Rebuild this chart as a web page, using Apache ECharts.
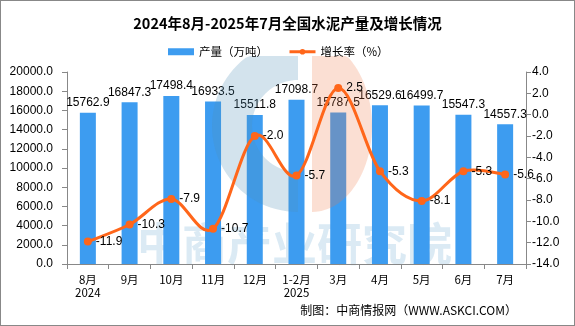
<!DOCTYPE html>
<html><head><meta charset="utf-8">
<script src="https://cdn.jsdelivr.net/npm/echarts@6/dist/echarts.min.js"></script>
<style>html,body{margin:0;padding:0;background:#fff}#c{width:575px;height:326px;box-sizing:border-box;border:1px solid #888}</style>
</head><body><div id="c"></div>
<script>
const categories = ['8月\n2024','9月','10月','11月','12月','1-2月\n2025','3月','4月','5月','6月','7月'];
const output = [15762.9,16847.3,17498.4,16933.5,15511.8,17098.7,15787.5,16529.6,16499.7,15547.3,14557.3];
const growth = [-11.9,-10.3,-7.9,-10.7,-2.0,-5.7,2.5,-5.3,-8.1,-5.3,-5.6];
const FONT = '"Noto Sans CJK SC", sans-serif';
const NUMFONT = '"Liberation Sans", Arial, sans-serif';
const LINE_COLOR = '#ff661a';
const chart = echarts.init(document.getElementById('c'), null, {renderer:'canvas'});

// Catmull-Rom style smooth curve through the growth points, drawn via the axis scales
function renderCurve(params, api){
  const i = params.dataIndex;
  const n = growth.length;
  if (i >= n - 1) return null;
  const P = k => { const j = Math.max(0, Math.min(n - 1, k)); return api.coord([j, growth[j]]); };
  const p0 = P(i - 1), p1 = P(i), p2 = P(i + 1), p3 = P(i + 2);
  const t = 6;
  return {
    type:'bezierCurve',
    shape:{x1:p1[0],y1:p1[1],x2:p2[0],y2:p2[1],
      cpx1:p1[0]+(p2[0]-p0[0])/t, cpy1:p1[1]+(p2[1]-p0[1])/t,
      cpx2:p2[0]-(p3[0]-p1[0])/t, cpy2:p2[1]-(p3[1]-p1[1])/t},
    style:{stroke:LINE_COLOR,lineWidth:3,fill:null,lineCap:'round'}
  };
}

// decorative logo watermark (clipped at the top)
function ringPoints(cx, cy, r, r0, a0, a1, topClip){
  const pts = [], N = 48;
  for (let k = 0; k <= N; k++){ const a = a0 + (a1 - a0)*k/N; pts.push([cx + r*Math.cos(a), Math.max(topClip, cy + r*Math.sin(a))]); }
  for (let k = N; k >= 0; k--){ const a = a0 + (a1 - a0)*k/N; pts.push([cx + r0*Math.cos(a), Math.max(topClip, cy + r0*Math.sin(a))]); }
  return pts;
}
function halfEllipse(cx, cy, rx, ry, topClip){
  const pts = [], N = 48;
  for (let k = 0; k <= N; k++){ const a = -Math.PI/2 + Math.PI*k/N; pts.push([cx + rx*Math.cos(a), Math.max(topClip, cy + ry*Math.sin(a))]); }
  return pts;
}

chart.setOption({
  animation:false,
  backgroundColor:'#fff',
  title:{text:'2024年8月-2025年7月全国水泥产量及增长情况',left:'center',top:10,
    textStyle:{fontSize:14.5,fontWeight:'bold',color:'#000',fontFamily:FONT}},
  legend:{top:40,left:162,itemGap:20,itemWidth:26,itemHeight:7,
    textStyle:{fontSize:11.5,color:'#000',fontFamily:FONT},
    data:[{name:'产量（万吨）',icon:'rect'},
          {name:'增长率（%）',lineStyle:{color:LINE_COLOR,width:3,opacity:1},itemStyle:{color:LINE_COLOR}}]},
  graphic:[
    {type:'text',left:136,top:220,z:-1,style:{text:'中商产业研究院',fontSize:45,fontWeight:'bold',fill:'rgba(175,208,230,0.45)',fontFamily:FONT}},
    {type:'polygon',z:3,shape:{points:ringPoints(297,125,86,46,Math.PI/2,Math.PI*1.5,55)},style:{fill:'rgba(80,145,185,0.25)'}},
    {type:'polygon',z:3,shape:{points:halfEllipse(311,125,60,86,55)},style:{fill:'rgba(240,120,70,0.24)'}},
    {type:'text',right:57,top:303,style:{text:'制图：中商情报网（WWW.ASKCI.COM）',fontSize:12,fill:'#000',fontFamily:FONT}}
  ],
  grid:{left:66,right:48,top:71,bottom:61,containLabel:false},
  xAxis:{type:'category',data:categories,
    axisLine:{lineStyle:{color:'#888'}},
    axisTick:{show:true,length:5,lineStyle:{color:'#888'},alignWithLabel:false},
    axisLabel:{color:'#000',fontSize:11.5,fontFamily:FONT,margin:9,lineHeight:13,interval:0}},
  yAxis:[
    {type:'value',min:0,max:20000,interval:2000,
      axisLine:{show:true,lineStyle:{color:'#888'}},
      axisTick:{show:true,length:5,lineStyle:{color:'#888'}},
      splitLine:{show:false},
      axisLabel:{color:'#000',fontSize:12,fontFamily:NUMFONT,margin:14,formatter:v=>v.toFixed(1)}},
    {type:'value',min:-14,max:4,interval:2,
      axisLine:{show:true,lineStyle:{color:'#888'}},
      axisTick:{show:true,length:5,lineStyle:{color:'#888'}},
      splitLine:{show:false},
      axisLabel:{color:'#000',fontSize:12,fontFamily:NUMFONT,margin:6,formatter:v=>v.toFixed(1)}}
  ],
  series:[
    {name:'产量（万吨）',type:'bar',z:1,data:output,barWidth:16,itemStyle:{color:'#3d9cf0'},
      label:{show:true,position:'top',distance:4,color:'#000',fontSize:12,fontFamily:NUMFONT,formatter:p=>p.value.toFixed(1)}},
    {name:'curve',type:'custom',yAxisIndex:1,z:4,data:growth.map((v,i)=>[i,v]),renderItem:renderCurve,silent:true},
    {name:'增长率（%）',type:'line',yAxisIndex:1,z:5,data:growth,
      symbol:'circle',symbolSize:8,
      lineStyle:{color:LINE_COLOR,width:3,opacity:0},itemStyle:{color:LINE_COLOR},
      label:{show:true,position:'right',distance:4,color:'#000',fontSize:12,fontFamily:NUMFONT,formatter:p=>p.value.toFixed(1)}}
  ]
});
</script></body></html>
